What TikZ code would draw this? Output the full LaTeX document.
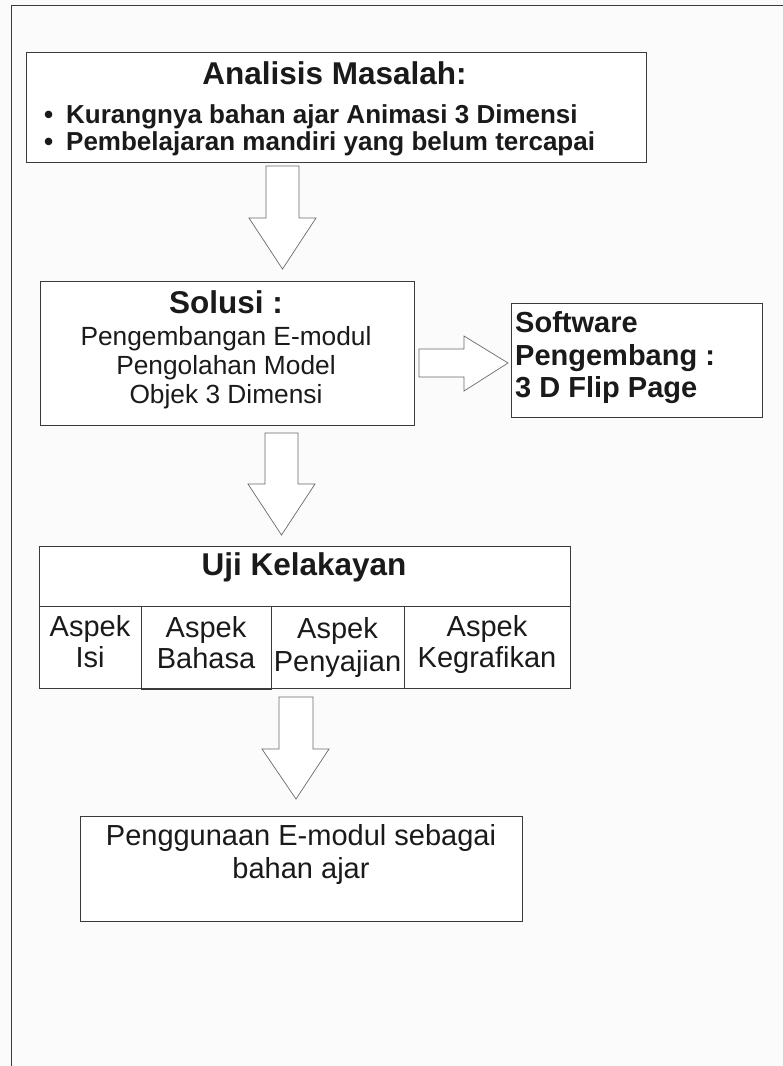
\documentclass[tikz,border=0pt]{standalone}
\usepackage{fontspec}
\setmainfont{Liberation Sans}
\definecolor{boxc}{HTML}{3A3A3A}
\definecolor{arrc}{HTML}{6A6A6A}
\definecolor{bgc}{HTML}{FBFBFB}
\definecolor{txt}{HTML}{1A1A1A}
\begin{document}
\begin{tikzpicture}[x=1pt,y=-1pt,
  boxframe/.style={draw=boxc, line width=0.9pt, fill=white, anchor=north west, inner sep=0pt},
  blockarrow/.style={draw=arrc, line width=0.7pt, fill=white, line join=miter},
  every node/.style={text=txt, inner sep=0pt},
  hbold/.style={font=\bfseries\fontsize{31.5}{36}\selectfont},
  bul/.style={font=\bfseries\fontsize{26}{30}\selectfont},
  reg/.style={font=\fontsize{26.3}{30}\selectfont},
  sbold/.style={font=\bfseries\fontsize{29}{33}\selectfont},
  cell/.style={font=\fontsize{29}{33}\selectfont}]
\fill[bgc] (0,0) rectangle (783,1066);
\useasboundingbox (0,0) rectangle (783,1066);
% page frame
\draw[boxc, line width=0.9pt] (11,1066) -- (11,5) -- (783,5);

% Box 1
\node[boxframe, minimum width=620pt, minimum height=110pt] (masalah) at (26,52) {};
\node[hbold, anchor=base] (t1) at (334.5,84) {Analisis Masalah:};
\node[bul, anchor=base west] (d1) at (44,123) {•};
\node[bul, anchor=base west] (b1) at (66,123) {Kurangnya bahan ajar Animasi 3 Dimensi};
\node[bul, anchor=base west] (d2) at (44,150) {•};
\node[bul, anchor=base west] (b2) at (66,150) {Pembelajaran mandiri yang belum tercapai};

% arrow 1
\draw[blockarrow] (266,166) -- (299,166) -- (299,218) -- (316,218) -- (282.5,269) -- (249,218) -- (266,218) -- cycle;

% Box 2
\node[boxframe, minimum width=374pt, minimum height=144pt] (solusi) at (40,281) {};
\node[hbold, anchor=base] (t2) at (226,313) {Solusi :};
\node[reg, anchor=base] (s1) at (226,345) {Pengembangan E-modul};
\node[reg, anchor=base] (s2) at (226,374) {Pengolahan Model};
\node[reg, anchor=base] (s3) at (226,403) {Objek 3 Dimensi};

% right arrow
\draw[blockarrow] (419,349) -- (464,349) -- (464,336) -- (508,363) -- (464,391) -- (464,377) -- (419,377) -- cycle;

% Software box
\node[boxframe, minimum width=251pt, minimum height=114pt] (software) at (511,303) {};
\node[sbold, anchor=base west] (w1) at (515,332) {Software};
\node[sbold, anchor=base west] (w2) at (515,365) {Pengembang :};
\node[sbold, anchor=base west] (w3) at (515,397) {3 D Flip Page};

% arrow 2
\draw[blockarrow] (265,433) -- (298,433) -- (298,484) -- (315,484) -- (281.5,535) -- (248,484) -- (265,484) -- cycle;

% Uji Kelakayan table
\node[boxframe, minimum width=531.5pt, minimum height=142pt] (uji) at (38.5,546) {};
\draw[boxc, line width=0.9pt] (38.5,606) -- (570,606);
\draw[boxc, line width=0.9pt] (404,606) -- (404,688);
\draw[boxc, line width=0.9pt] (141,606) rectangle (271,689);
\node[hbold, anchor=base] (t3) at (304,575) {Uji Kelakayan};
\node[cell, anchor=base] (c1a) at (90,636) {Aspek};
\node[cell, anchor=base] (c1b) at (90,667) {Isi};
\node[cell, anchor=base] (c2a) at (206,637) {Aspek};
\node[cell, anchor=base] (c2b) at (206,668) {Bahasa};
\node[cell, anchor=base] (c3a) at (337.5,638) {Aspek};
\node[cell, anchor=base] (c3b) at (337.5,671) {Penyajian};
\node[cell, anchor=base] (c4a) at (487,636) {Aspek};
\node[cell, anchor=base] (c4b) at (487,667) {Kegrafikan};

% arrow 3
\draw[blockarrow] (279,697) -- (313,697) -- (313,749) -- (329,749) -- (296,799) -- (262,749) -- (279,749) -- cycle;

% final box
\node[boxframe, minimum width=442pt, minimum height=105pt] (hasil) at (80,816) {};
\node[cell, anchor=base] (h1) at (301,845) {Penggunaan E-modul sebagai};
\node[cell, anchor=base] (h2) at (301,878) {bahan ajar};
\end{tikzpicture}
\end{document}
